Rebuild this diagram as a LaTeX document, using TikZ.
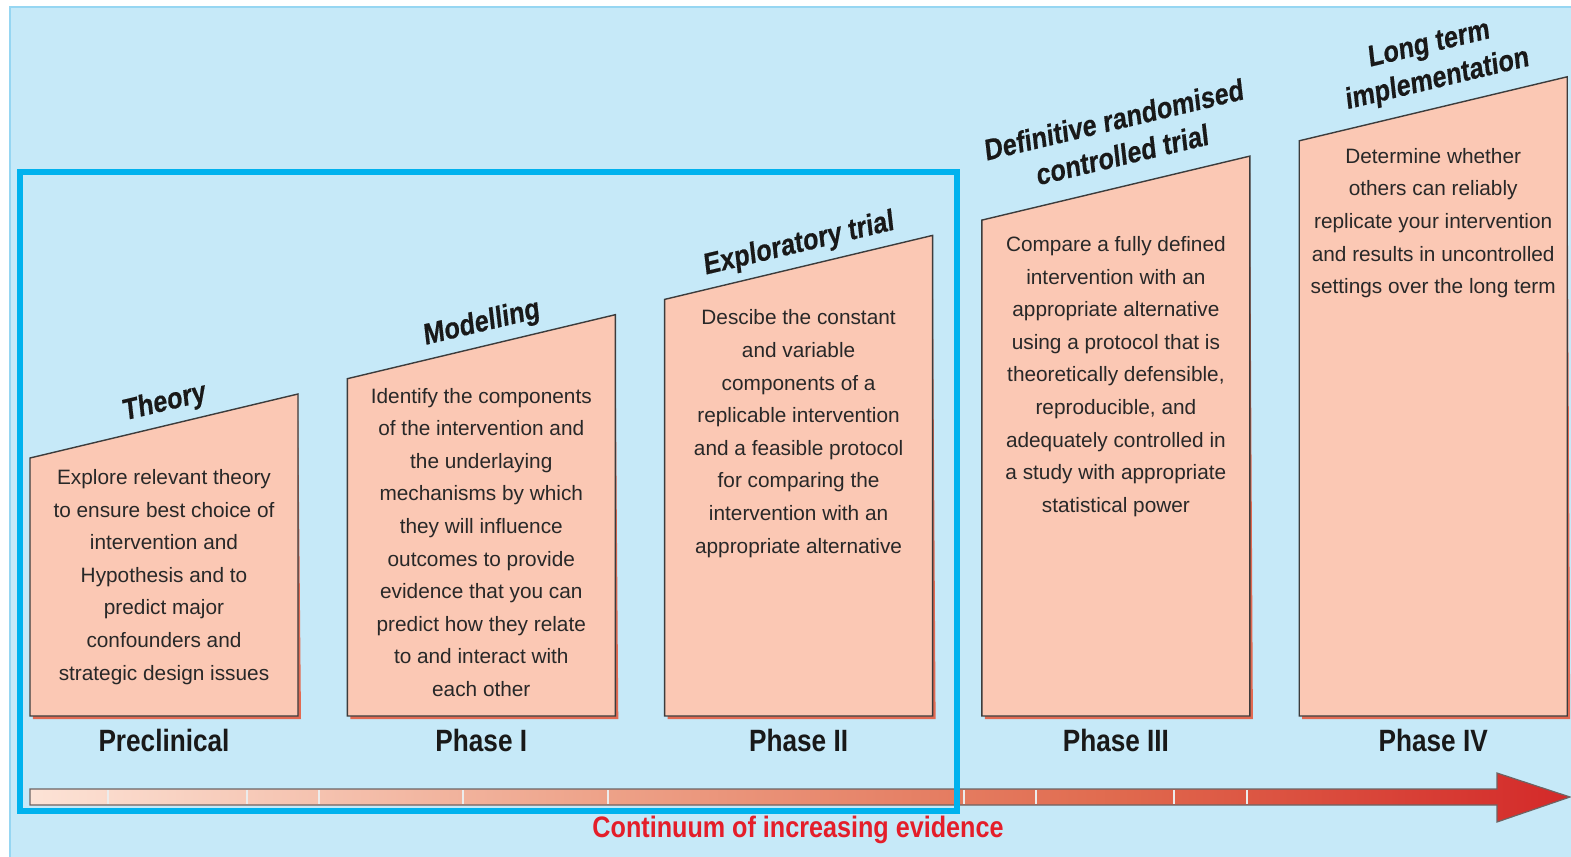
\documentclass[tikz,border=0pt]{standalone}
\usepackage{fontspec}
\setmainfont{Liberation Sans}
\newfontfamily\headfont{Liberation Sans}[FakeStretch=0.86,FakeSlant=0.12,BoldFeatures={FakeBold=0.4}]
\newfontfamily\labelfont{Liberation Sans}[FakeStretch=0.85]
\usetikzlibrary{calc}
\definecolor{bgblue}{RGB}{198,233,248}
\definecolor{edgeblue}{RGB}{150,214,242}
\definecolor{frameblue}{RGB}{0,178,238}
\definecolor{peach}{RGB}{251,200,180}
\definecolor{shadowred}{RGB}{226,106,82}
\definecolor{boxline}{RGB}{60,60,60}
\definecolor{bodygray}{RGB}{40,40,40}
\definecolor{evidred}{RGB}{228,30,42}
\definecolor{arrowline}{RGB}{110,100,100}
\pgfdeclarehorizontalshading{evidence}{100bp}{rgb(0bp)=(0.99,0.89,0.84); rgb(25bp)=(0.99,0.89,0.84); rgb(44bp)=(0.93,0.63,0.53); rgb(60bp)=(0.88,0.42,0.31); rgb(75bp)=(0.83,0.16,0.16); rgb(100bp)=(0.83,0.16,0.16)}

\begin{document}
\begin{tikzpicture}[x=0.5pt,y=-0.5pt,
	boxshape/.style={fill=peach, draw=boxline, line width=0.7pt},
	boxshadow/.style={fill=shadowred},
	headtext/.style={anchor=south, rotate=13.43, align=center, inner sep=4pt, xshift=2.5pt, text=black!90, font=\headfont\bfseries\fontsize{14.8}{18}\selectfont},
	boxtext/.style={anchor=north, align=center, inner sep=0pt, text=bodygray, font=\fontsize{10.4}{16.3}\selectfont},
	phaselabel/.style={anchor=base, text=black!90, font=\labelfont\bfseries\fontsize{15.4}{18}\selectfont}]

\useasboundingbox (0,0) rectangle (1571,857);
\fill[white] (0,0) rectangle (1571,857);
\filldraw[fill=bgblue, draw=edgeblue, line width=1pt] (10,7) rectangle (1580,870);



\foreach \i/\phase in {0/Preclinical,1/Phase I,2/Phase II,3/Phase III,4/Phase IV}{
	\pgfmathsetmacro{\xl}{30+317.3*\i}
	\pgfmathsetmacro{\xr}{\xl+268}
	\pgfmathsetmacro{\yl}{458-79.3*\i}
	\pgfmathsetmacro{\yr}{\yl-64}
	\coordinate (tl\i) at (\xl,\yl);
	\coordinate (tr\i) at (\xr,\yr);
	\fill[boxshadow, shift={(3,3)}] (\xl,716) -- (tl\i) -- (tr\i) -- (\xr,716) -- cycle;
	\draw[boxshape] (\xl,716) -- (tl\i) -- (tr\i) -- (\xr,716) -- cycle;
	\draw (\xl+134,751) node [phaselabel] (phase\i) {\phase};
};




%----------HEADINGS-------------%
\node[headtext] (theoryhead) at ($(tl0)!0.5!(tr0)$) {Theory};
\node[headtext] (modelhead) at ($(tl1)!0.5!(tr1)$) {Modelling};
\node[headtext] (explorehead) at ($(tl2)!0.5!(tr2)$) {Exploratory trial};
\node[headtext, inner ysep=10pt, xshift=4pt] (rcthead) at ($(tl3)!0.5!(tr3)$) {Definitive randomised\\controlled trial};
\node[headtext, inner ysep=6.5pt, xshift=2.5pt] (longhead) at ($(tl4)!0.5!(tr4)$) {Long term\\implementation};

%----------BOX TEXTS-------------%
\node[boxtext] (theorytext) at ($(tl0)+(134,11)$) {Explore relevant theory\\to ensure best choice of\\intervention and\\Hypothesis and to\\predict major\\confounders and\\strategic design issues};
\node[boxtext] (modeltext) at ($(tl1)+(134,9)$) {Identify the components\\of the intervention and\\the underlaying\\mechanisms by which\\they will influence\\outcomes to provide\\evidence that you can\\predict how they relate\\to and interact with\\each other};
\node[boxtext] (exploretext) at ($(tl2)+(134,10)$) {Descibe the constant\\and variable\\components of a\\replicable intervention\\and a feasible protocol\\for comparing the\\intervention with an\\appropriate alternative};
\node[boxtext] (rcttext) at ($(tl3)+(134,16)$) {Compare a fully defined\\intervention with an\\appropriate alternative\\using a protocol that is\\theoretically defensible,\\reproducible, and\\adequately controlled in\\a study with appropriate\\statistical power};
\node[boxtext] (longtext) at ($(tl4)+(134,7)$) {Determine whether\\others can reliably\\replicate your intervention\\and results in uncontrolled\\settings over the long term};

%--------EVIDENCE ARROW-----------%
\shadedraw[shading=evidence, draw=arrowline, line width=0.6pt]
(30,789) -- (1497,789) -- (1497,773) -- (1570,797) -- (1497,822) -- (1497,805) -- (30,805) -- cycle;
\foreach \d in {108,247,319,463,608,964,1036,1174,1247}{
	\draw[white!85!gray, line width=0.6pt] (\d,790) -- (\d,804);
};

\draw[frameblue, line width=3pt] (20,172) rectangle (957,811);

\node[anchor=base, text=evidred, font=\labelfont\bfseries\fontsize{14.8}{17}\selectfont] (evidence) at (798,837) {Continuum of increasing evidence};

\end{tikzpicture}
\end{document}
